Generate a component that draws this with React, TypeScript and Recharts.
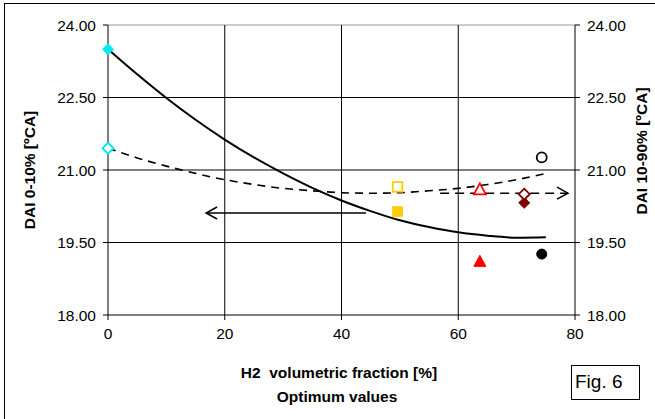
import React from 'react';
import { ComposedChart, Line, Scatter, XAxis, YAxis, ReferenceLine } from 'recharts';

// axis ticks
const xTicks = [0, 20, 40, 60, 80];
const yTicks = [18, 19.5, 21, 22.5, 24];

// measured points (H2 fraction, DAI values)
const h2Fraction = [0, 49.6, 63.7, 71.3, 74.3];
const dai0to10 = [23.5, 20.14, 19.1, 20.32, 19.26];
const dai10to90 = [21.45, 20.65, 20.59, 20.5, 21.26];

// trend curves
const fitX = [0, 5, 10, 15, 20, 25, 30, 35, 40, 45, 50, 55, 60, 65, 70, 75];
const fit0to10 = [23.5, 22.98, 22.49, 22.04, 21.63, 21.26, 20.93, 20.63, 20.37, 20.15, 19.96, 19.82, 19.71, 19.64, 19.6, 19.61];
const fit10to90 = [21.45, 21.25, 21.08, 20.93, 20.8, 20.7, 20.62, 20.57, 20.53, 20.52, 20.53, 20.57, 20.62, 20.7, 20.8, 20.93];

// arrows pointing at each axis
const arrowLeftX = [44.2, 16.8];
const arrowLeftY = [20.11, 20.11];
const arrowRightX = [56.9, 78.8];
const arrowRightY = [20.52, 20.52];

const markerKinds = ['diamond', 'square', 'triangle', 'diamond', 'circle'];
const markerColors = ['#00e8f0', '#ffcc00', '#ff0000', '#800000', '#000000'];

const FONT = '"Liberation Sans", Arial, sans-serif';

const zip = (xs: number[], ys: number[]) => xs.map((x, i) => ({ x, y: ys[i] }));

const makeShape = (kind: string, color: string, filled: boolean) => (props: any) => {
  const { cx, cy } = props;
  const fill = filled ? color : '#fff';
  const sw = filled ? 1 : 1.8;
  if (kind === 'diamond') {
    const r = 5.5;
    return <polygon points={`${cx},${cy - r} ${cx + r},${cy} ${cx},${cy + r} ${cx - r},${cy}`} fill={fill} stroke={color} strokeWidth={sw} />;
  }
  if (kind === 'square') {
    const r = 4.8;
    return <rect x={cx - r} y={cy - r} width={2 * r} height={2 * r} fill={fill} stroke={color} strokeWidth={sw} />;
  }
  if (kind === 'triangle') {
    return <polygon points={`${cx},${cy - 6.5} ${cx + 6},${cy + 4.5} ${cx - 6},${cy + 4.5}`} fill={fill} stroke={color} strokeWidth={sw} />;
  }
  return <circle cx={cx} cy={cy} r={5} fill={fill} stroke={color} strokeWidth={sw} />;
};

const arrowHead = (dir: number) => (props: any) => {
  const { cx, cy, index } = props;
  if (index !== 1) return <g key={`a${index}`} />;
  return (
    <polyline
      key={`a${index}`}
      points={`${cx - dir * 11},${cy - 6} ${cx},${cy} ${cx - dir * 11},${cy + 6}`}
      fill="none"
      stroke="#000"
      strokeWidth={1.5}
    />
  );
};

const tickStyle = { fill: '#000', fontSize: 15.5, fontFamily: FONT };
const fmt = (v: number) => v.toFixed(2);

const App: React.FC = () => {
  return (
    <div style={{ position: 'absolute', left: 0, top: 0, width: 655, height: 419, overflow: 'hidden', background: '#fff', fontFamily: FONT }}>
      <div style={{ position: 'absolute', left: 4, top: 3, width: 700, height: 500, borderLeft: '1.5px solid #000', borderTop: '1.5px solid #000' }} />
      <div style={{ position: 'absolute', left: 0, top: 0 }}>
        <ComposedChart width={655} height={419} margin={{ top: 25, right: 20, left: 48, bottom: 74 }}>
          <XAxis
            type="number"
            dataKey="x"
            domain={[0, 80]}
            ticks={xTicks}
            height={30}
            tick={tickStyle}
            tickSize={5}
            tickMargin={8}
            stroke="#000"
          />
          <YAxis
            yAxisId="left"
            type="number"
            domain={[18, 24]}
            ticks={yTicks}
            width={60}
            tick={tickStyle}
            tickFormatter={fmt}
            tickSize={5}
            tickMargin={7}
            stroke="#000"
          />
          <YAxis
            yAxisId="right"
            orientation="right"
            type="number"
            domain={[18, 24]}
            ticks={yTicks}
            width={60}
            tick={tickStyle}
            tickFormatter={fmt}
            tickSize={5}
            tickMargin={7}
            stroke="#000"
          />
          {[19.5, 21, 22.5].map((v) => (
            <ReferenceLine key={`h${v}`} yAxisId="left" y={v} stroke="#000" strokeWidth={1} />
          ))}
          <ReferenceLine yAxisId="left" y={24} stroke="#999" strokeWidth={1} />
          {[20, 40, 60].map((v) => (
            <ReferenceLine key={`v${v}`} yAxisId="left" x={v} stroke="#000" strokeWidth={1} />
          ))}
          <Line
            yAxisId="left"
            data={zip(fitX, fit0to10)}
            dataKey="y"
            type="monotone"
            stroke="#000"
            strokeWidth={2}
            dot={false}
            isAnimationActive={false}
          />
          <Line
            yAxisId="right"
            data={zip(fitX, fit10to90)}
            dataKey="y"
            type="monotone"
            stroke="#000"
            strokeWidth={1.6}
            strokeDasharray="8 6"
            dot={false}
            isAnimationActive={false}
          />
          <Line
            yAxisId="left"
            data={zip(arrowLeftX, arrowLeftY)}
            dataKey="y"
            type="linear"
            stroke="#000"
            strokeWidth={1.5}
            dot={arrowHead(-1)}
            activeDot={false}
            isAnimationActive={false}
          />
          <Line
            yAxisId="right"
            data={zip(arrowRightX, arrowRightY)}
            dataKey="y"
            type="linear"
            stroke="#000"
            strokeWidth={1.5}
            strokeDasharray="9 6"
            dot={arrowHead(1)}
            activeDot={false}
            isAnimationActive={false}
          />
          {h2Fraction.map((x, i) => (
            <Scatter
              key={`f${i}`}
              yAxisId="left"
              data={[{ x, y: dai0to10[i] }]}
              dataKey="y"
              shape={makeShape(markerKinds[i], markerColors[i], true)}
              isAnimationActive={false}
            />
          ))}
          {h2Fraction.map((x, i) => (
            <Scatter
              key={`o${i}`}
              yAxisId="right"
              data={[{ x, y: dai10to90[i] }]}
              dataKey="y"
              shape={makeShape(markerKinds[i], markerColors[i], false)}
              isAnimationActive={false}
            />
          ))}
        </ComposedChart>
      </div>
      <div style={{ position: 'absolute', left: 30, top: 170, transform: 'translate(-50%, -50%) rotate(-90deg)', whiteSpace: 'nowrap', fontWeight: 'bold', fontSize: 15.5 }}>
        DAI 0-10% [ºCA]
      </div>
      <div style={{ position: 'absolute', left: 642, top: 151, transform: 'translate(-50%, -50%) rotate(-90deg)', whiteSpace: 'nowrap', fontWeight: 'bold', fontSize: 15.5 }}>
        DAI 10-90% [ºCA]
      </div>
      <div style={{ position: 'absolute', left: 339, top: 373, transform: 'translate(-50%, -50%)', whiteSpace: 'pre', fontWeight: 'bold', fontSize: 15.5 }}>
        {'H2  volumetric fraction [%]'}
      </div>
      <div style={{ position: 'absolute', left: 337, top: 397, transform: 'translate(-50%, -50%)', whiteSpace: 'nowrap', fontWeight: 'bold', fontSize: 15.5 }}>
        Optimum values
      </div>
      <div style={{ position: 'absolute', left: 571, top: 365, width: 69, height: 35, boxSizing: 'border-box', border: '1.5px solid #000', fontSize: 19, lineHeight: '31px', paddingLeft: 3 }}>
        Fig. 6
      </div>
    </div>
  );
};

export default App;
